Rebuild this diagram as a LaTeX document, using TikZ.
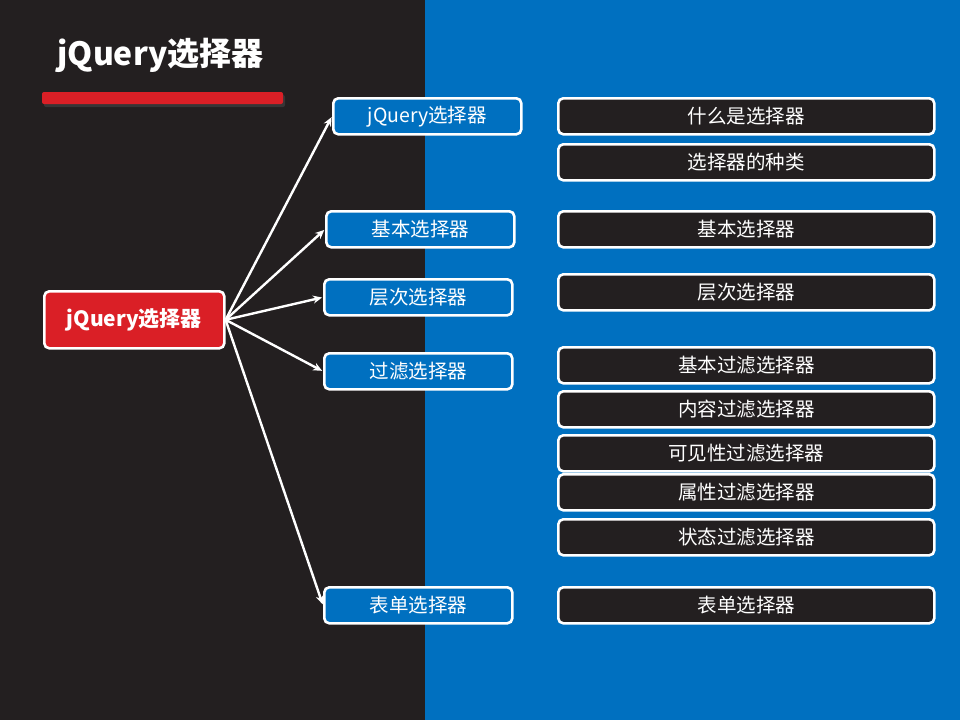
\documentclass[tikz,border=0pt]{standalone}
\usepackage{fontspec}
\setmainfont{Noto Sans CJK SC}
\usetikzlibrary{arrows.meta}
\definecolor{darkbg}{HTML}{231F20}
\definecolor{bluebg}{HTML}{0070C0}
\definecolor{redc}{HTML}{DA1F26}
\tikzset{
  box/.style={draw=white, line width=2.6pt, rounded corners=5pt, text=white, inner sep=0pt, anchor=north west, font=\fontsize{19.5}{22}\selectfont},
  bluebox/.style={box, fill=bluebg, minimum width=188pt, minimum height=36pt},
  darkbox/.style={box, fill=darkbg, minimum width=376pt, minimum height=36pt},
  conn/.style={draw=white, line width=2.4pt, -{Stealth[length=9pt,width=8pt]}, shorten >=1pt}
}
\begin{document}
\begin{tikzpicture}[x=1pt,y=-1pt]
\useasboundingbox (0,0) rectangle (960,720);
\fill[darkbg] (0,0) rectangle (425,720);
\fill[bluebg] (425,0) rectangle (960,720);
\node[text=white, font=\fontsize{32}{36}\selectfont\bfseries, anchor=west] (title) at (54,55) {jQuery选择器};
\fill[black!70, opacity=0.5, rounded corners=2pt] (44,95) rectangle (285,107);
\fill[redc, rounded corners=2pt] (42,92) rectangle (283,104);
\node[box, fill=redc, minimum width=180pt, minimum height=57pt, font=\fontsize{21}{24}\selectfont\bfseries] (root) at (43,290) {jQuery选择器};
\node[bluebox] (b1) at (332,97) {jQuery选择器};
\node[bluebox] (b2) at (325,210) {基本选择器};
\node[bluebox] (b3) at (323,278) {层次选择器};
\node[bluebox] (b4) at (323,352) {过滤选择器};
\node[bluebox] (b5) at (323,586) {表单选择器};
\node[darkbox] (d1) at (557,97) {什么是选择器};
\node[darkbox] (d2) at (557,143) {选择器的种类};
\node[darkbox] (d3) at (557,210) {基本选择器};
\node[darkbox] (d4) at (557,273) {层次选择器};
\node[darkbox] (d5) at (557,346) {基本过滤选择器};
\node[darkbox] (d6) at (557,390) {内容过滤选择器};
\node[darkbox] (d7) at (557,434) {可见性过滤选择器};
\node[darkbox] (d8) at (557,473) {属性过滤选择器};
\node[darkbox] (d9) at (557,518) {状态过滤选择器};
\node[darkbox] (d10) at (557,586) {表单选择器};
\foreach \t in {b1,b2,b3,b4,b5}
  \draw[conn] (root.east) -- (\t.west);
\end{tikzpicture}
\end{document}
